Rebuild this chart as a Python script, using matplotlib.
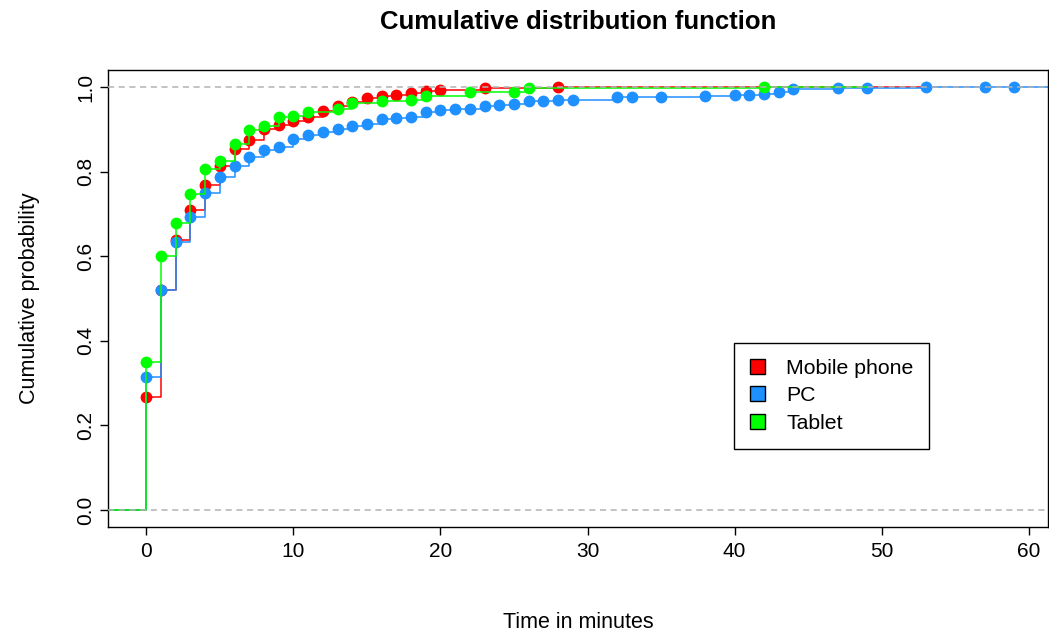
import matplotlib
matplotlib.use("Agg")
import matplotlib.pyplot as plt
from matplotlib.patches import Patch

plt.rcParams['font.family'] = ['Liberation Sans', 'DejaVu Sans']

# ecdf values (minute -> cumulative probability)
mobile_x = [0, 1, 2, 3, 4, 5, 6, 7, 8, 9, 10, 11, 12, 13, 14, 15, 16, 17, 18, 19, 20, 23, 28]
mobile_y = [0.268, 0.521, 0.637, 0.709, 0.768, 0.813, 0.853, 0.874, 0.900, 0.910, 0.920,
            0.930, 0.943, 0.956, 0.965, 0.974, 0.978, 0.981, 0.985, 0.990, 0.993, 0.997, 1.0]

pc_x = [0, 1, 2, 3, 4, 5, 6, 7, 8, 9, 10, 11, 12, 13, 14, 15, 16, 17, 18, 19, 20, 21, 22,
        23, 24, 25, 26, 27, 28, 29, 32, 33, 35, 38, 40, 41, 42, 43, 44, 47, 49, 53, 57, 59]
pc_y = [0.315, 0.520, 0.633, 0.692, 0.749, 0.787, 0.813, 0.834, 0.851, 0.859, 0.878, 0.886,
        0.893, 0.901, 0.907, 0.912, 0.924, 0.927, 0.930, 0.940, 0.946, 0.947, 0.949,
        0.956, 0.957, 0.960, 0.966, 0.966, 0.970, 0.970, 0.976, 0.976, 0.976, 0.979,
        0.981, 0.981, 0.984, 0.988, 0.995, 0.997, 0.997, 0.999, 1.0, 1.0]

tablet_x = [0, 1, 2, 3, 4, 5, 6, 7, 8, 9, 10, 11, 13, 14, 16, 18, 19, 22, 25, 26, 42]
tablet_y = [0.349, 0.600, 0.678, 0.746, 0.806, 0.825, 0.864, 0.898, 0.908, 0.928, 0.932,
            0.941, 0.947, 0.961, 0.966, 0.970, 0.979, 0.987, 0.989, 0.997, 1.0]

labels = ["Mobile phone", "PC", "Tablet"]
colors = ["#FF0000", "#1E90FF", "#00FF00"]
# where each step line stops on the right (R extends the last step)
line_end = [53, 80, 49]

series = [(mobile_x, mobile_y), (pc_x, pc_y), (tablet_x, tablet_y)]

fig = plt.figure(figsize=(10.49, 6.37), dpi=100)
ax = fig.add_axes([0.103, 0.173, 0.896, 0.717])

for (xs, ys), col, end in zip(series, colors, line_end):
    sx = [-10] + xs + [end]
    sy = [0] + ys + [ys[-1]]
    ax.step(sx, sy, where='post', color=col, lw=1.1)
    ax.plot(xs, ys, 'o', color=col, ms=7.5, mec=col)

ax.axhline(0, color='#B3B3B3', ls=(0, (4, 3)), lw=1.1, zorder=5)
ax.axhline(1, color='#B3B3B3', ls=(0, (4, 3)), lw=1.1, zorder=5)

ax.set_xlim(-2.6, 61.3)
ax.set_ylim(-0.04, 1.04)
ax.set_xticks([0, 10, 20, 30, 40, 50, 60])
ax.set_yticks([0.0, 0.2, 0.4, 0.6, 0.8, 1.0])
ax.set_yticklabels(["0.0", "0.2", "0.4", "0.6", "0.8", "1.0"], rotation=90, va='center')
ax.tick_params(labelsize=15, length=6, width=1)
ax.tick_params(axis='y', pad=3)
ax.tick_params(axis='x', pad=5)
for s in ax.spines.values():
    s.set_linewidth(1)

ax.set_xlabel("Time in minutes", fontsize=15.5, labelpad=37)
ax.set_ylabel("Cumulative probability", fontsize=15.5, labelpad=26)
fig.text(0.551, 0.966, "Cumulative distribution function", ha='center', va='center',
         fontsize=18.5, fontweight='bold')

handles = [Patch(facecolor=c, edgecolor='black', lw=1) for c in colors]
leg = ax.legend(handles, labels, loc='upper left', bbox_to_anchor=(0.666, 0.403),
                fontsize=15.3, frameon=True, fancybox=False, framealpha=1,
                edgecolor='black', handlelength=0.7, handleheight=0.7,
                borderpad=0.75, labelspacing=0.4, handletextpad=1.0, borderaxespad=0)
leg.get_frame().set_linewidth(1)

fig.savefig("out.png", dpi=100)
